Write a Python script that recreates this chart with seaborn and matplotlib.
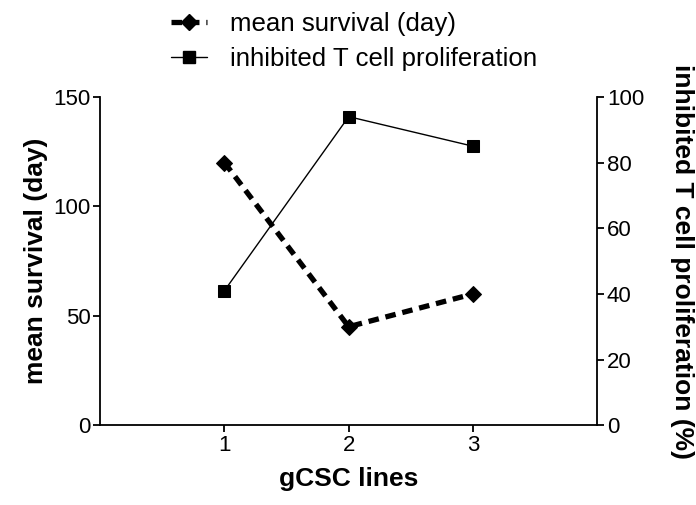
import matplotlib
matplotlib.use("Agg")
import matplotlib.pyplot as plt
import seaborn as sns
import pandas as pd
from matplotlib.lines import Line2D

lines = [1, 2, 3]
mean_survival = [120, 45, 60]
inhibited_t = [41, 94, 85]
x_label = "gCSC lines"
left_label = "mean survival (day)"
right_label = "inhibited T cell proliferation (%)"
legend_labels = ["mean survival (day)", "inhibited T cell proliferation"]

sns.set_style("ticks")
plt.rcParams['font.family'] = ['Liberation Sans', 'DejaVu Sans']
plt.rcParams['text.color'] = 'black'
plt.rcParams['axes.labelcolor'] = 'black'
plt.rcParams['xtick.color'] = 'black'
plt.rcParams['ytick.color'] = 'black'

df = pd.DataFrame({"line": lines, "surv": mean_survival, "tcell": inhibited_t})

fig = plt.figure(figsize=(6.96, 5.05), dpi=100)
ax = fig.add_axes([0.144, 0.158, 0.714, 0.650])
ax2 = ax.twinx()

dash = (0, (2.0, 1.3))
sns.lineplot(data=df, x="line", y="surv", ax=ax, color="black", linewidth=3.8,
             linestyle=dash, marker="D", markersize=8, markeredgecolor="black")
sns.lineplot(data=df, x="line", y="tcell", ax=ax2, color="black", linewidth=1.0,
             marker="s", markersize=8.5, markeredgecolor="black")

ax.set_xlim(0, 4)
ax.set_ylim(0, 150)
ax2.set_ylim(0, 100)
ax.set_xticks(lines)
ax.set_yticks([0, 50, 100, 150])
ax2.set_yticks([0, 20, 40, 60, 80, 100])

for a in (ax, ax2):
    a.spines['top'].set_visible(False)
    for s in a.spines.values():
        s.set_linewidth(1.3)
        s.set_color("black")
    a.tick_params(axis="both", direction="out", length=5, width=1.3, labelsize=16,
                  colors="black", pad=2)
ax.spines['right'].set_visible(False)
ax2.spines['left'].set_visible(False)
ax2.spines['bottom'].set_visible(False)

ax.set_xlabel(x_label, fontsize=19, fontweight="bold", labelpad=8)
ax.set_ylabel(left_label, fontsize=19, fontweight="bold", labelpad=4)
ax2.set_ylabel(right_label, fontsize=19, fontweight="bold", rotation=270, labelpad=36)

handles = [
    Line2D([], [], color="black", linewidth=3.8, linestyle=dash, marker="D", markersize=8),
    Line2D([], [], color="black", linewidth=1.0, marker="s", markersize=8.5),
]
fig.legend(handles, legend_labels, loc="upper left", bbox_to_anchor=(0.212, 1.023),
           frameon=False, fontsize=18.6, handlelength=1.4, handletextpad=0.9, labelspacing=0.45)

fig.savefig("out.png", dpi=100)
